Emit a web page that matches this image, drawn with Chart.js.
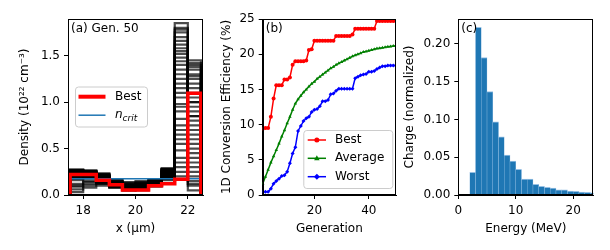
<!DOCTYPE html>
<html>
<head>
<meta charset="utf-8">
<script src="https://cdn.jsdelivr.net/npm/chart.js@4/dist/chart.umd.min.js"></script>
<style>
  body { margin: 0; background: #fff; width: 610px; height: 250px; position: relative; overflow: hidden; }
  canvas { position: absolute; top: 0; }
</style>
</head>
<body>
<canvas id="densityChart" width="205" height="250" style="left:0px"></canvas>
<canvas id="efficiencyChart" width="195" height="250" style="left:205px"></canvas>
<canvas id="spectrumChart" width="210" height="250" style="left:400px"></canvas>
<script>
// (a) density profile, gen 50  (units 10^22 cm^-3)
var densityEdges = [17.5, 18, 18.5, 19, 19.5, 20, 20.5, 21, 21.5, 22, 22.5]
var bestDensity = [0.22, 0.22, 0.16, 0.11, 0.055, 0.055, 0.10, 0.12, 0.17, 1.095]
var nCrit = 0.174
var gen50Density = [
  [0.26, 0.25, 0.22, 0.12, 0.08, 0.10, 0.12, 0.28, 1.85, 0.30],
  [0.24, 0.26, 0.18, 0.10, 0.06, 0.08, 0.10, 0.24, 0.40, 1.45],
  [0.20, 0.22, 0.23, 0.15, 0.10, 0.12, 0.16, 0.26, 1.70, 0.10],
  [0.27, 0.24, 0.20, 0.08, 0.05, 0.06, 0.11, 0.20, 1.55, 0.60],
  [0.22, 0.20, 0.14, 0.11, 0.13, 0.14, 0.15, 0.18, 1.40, 0.85],
  [0.18, 0.19, 0.16, 0.13, 0.09, 0.11, 0.13, 0.22, 1.20, 1.30],
  [0.25, 0.23, 0.19, 0.09, 0.07, 0.05, 0.09, 0.25, 1.05, 0.95],
  [0.10, 0.15, 0.12, 0.14, 0.12, 0.13, 0.14, 0.27, 0.90, 1.10],
  [0.23, 0.21, 0.17, 0.16, 0.11, 0.09, 0.12, 0.21, 0.75, 1.20],
  [0.26, 0.24, 0.21, 0.12, 0.08, 0.10, 0.17, 0.29, 1.62, 0.20],
  [0.21, 0.22, 0.18, 0.10, 0.06, 0.07, 0.10, 0.17, 0.55, 1.00],
  [0.27, 0.26, 0.20, 0.12, 0.09, 0.12, 0.12, 0.23, 1.30, 0.45],
  [0.09, 0.12, 0.15, 0.17, 0.14, 0.15, 0.16, 0.19, 0.30, 0.70],
  [0.22, 0.23, 0.20, 0.11, 0.05, 0.08, 0.13, 0.26, 1.75, 0.05],
  [0.19, 0.18, 0.13, 0.08, 0.10, 0.10, 0.14, 0.24, 0.65, 1.40],
  [0.25, 0.26, 0.22, 0.14, 0.08, 0.11, 0.11, 0.22, 1.48, 0.50],
  [0.03, 0.08, 0.10, 0.12, 0.10, 0.12, 0.14, 0.16, 0.20, 0.85],
  [0.24, 0.22, 0.19, 0.09, 0.07, 0.09, 0.12, 0.28, 1.15, 0.75],
  [0.26, 0.25, 0.21, 0.13, 0.09, 0.10, 0.15, 0.25, 0.98, 1.35],
  [0.20, 0.21, 0.17, 0.10, 0.08, 0.10, 0.11, 0.20, 1.58, 0.15],
  [0.25, 0.24, 0.20, 0.11, 0.07, 0.09, 0.13, 0.27, 1.80, 1.25],
  [0.23, 0.22, 0.19, 0.13, 0.10, 0.11, 0.12, 0.22, 1.66, 0.40],
  [0.16, 0.18, 0.15, 0.12, 0.09, 0.08, 0.10, 0.19, 1.52, 1.05],
  [0.27, 0.25, 0.21, 0.10, 0.06, 0.07, 0.11, 0.25, 1.35, 0.65],
  [0.21, 0.20, 0.17, 0.14, 0.11, 0.13, 0.15, 0.23, 1.25, 1.38],
  [0.12, 0.14, 0.13, 0.10, 0.08, 0.09, 0.12, 0.21, 1.10, 0.90],
  [0.24, 0.26, 0.22, 0.12, 0.07, 0.08, 0.10, 0.26, 0.95, 1.15],
  [0.26, 0.23, 0.18, 0.09, 0.06, 0.10, 0.13, 0.24, 0.82, 0.35],
  [0.22, 0.21, 0.16, 0.11, 0.09, 0.11, 0.14, 0.20, 0.70, 0.55],
  [0.06, 0.10, 0.12, 0.15, 0.12, 0.12, 0.13, 0.18, 0.60, 1.42],
  [0.25, 0.24, 0.20, 0.13, 0.08, 0.09, 0.11, 0.27, 0.48, 0.80],
  [0.20, 0.19, 0.14, 0.10, 0.10, 0.12, 0.16, 0.22, 0.35, 1.00],
  [0.27, 0.26, 0.23, 0.12, 0.07, 0.08, 0.12, 0.28, 0.25, 0.25],
  [0.23, 0.24, 0.19, 0.11, 0.09, 0.10, 0.12, 0.23, 1.44, 1.28],
  [0.18, 0.20, 0.18, 0.12, 0.08, 0.09, 0.14, 0.25, 1.78, 0.12],
]
var densityTicksX = [18, 20, 22]
var densityTicksY = [0, 0.5, 1, 1.5]

// (b) conversion efficiency per generation (%)
var generations = [1, 2, 3, 4, 5, 6, 7, 8, 9, 10, 11, 12, 13, 14, 15, 16, 17, 18, 19, 20,
  21, 22, 23, 24, 25, 26, 27, 28, 29, 30, 31, 32, 33, 34, 35, 36, 37, 38, 39, 40,
  41, 42, 43, 44, 45, 46, 47, 48, 49, 50]
var bestEff = [9.4, 9.5, 9.5, 11.1, 13.7, 15.6, 15.6, 15.6, 16.4, 16.4,
  16.7, 18.5, 19.0, 19.0, 19.0, 19.0, 19.1, 20.6, 20.7, 21.9,
  21.9, 21.9, 21.9, 21.9, 21.9, 21.9, 21.9, 22.6, 22.6, 22.6,
  22.6, 22.6, 22.6, 22.8, 23.6, 23.6, 23.6, 23.6, 23.6, 23.6,
  23.6, 23.6, 24.7, 24.7, 24.7, 24.7, 24.7, 24.7, 24.7, 24.7]
var avgEff = [1.6, 2.6, 3.6, 4.6, 5.5, 6.4, 7.3, 8.3, 9.2, 10.2,
  11.1, 12.1, 13.0, 13.6, 14.1, 14.6, 15.0, 15.4, 15.8, 16.1,
  16.5, 16.8, 17.1, 17.4, 17.7, 18.0, 18.2, 18.5, 18.7, 18.9,
  19.1, 19.3, 19.5, 19.7, 19.85, 20.0, 20.15, 20.3, 20.4, 20.5,
  20.6, 20.7, 20.8, 20.85, 20.9, 21.0, 21.05, 21.1, 21.15, 21.2]
var worstEff = [0.45, 0.45, 0.45, 0.9, 1.6, 2.0, 2.3, 2.7, 2.8, 3.3,
  4.5, 5.9, 6.8, 9.1, 9.8, 10.5, 10.9, 11.1, 11.8, 12.1,
  12.2, 12.6, 13.3, 13.3, 13.5, 14.3, 14.4, 14.8, 15.1, 15.1,
  15.1, 15.1, 15.1, 15.1, 16.6, 16.8, 17.0, 17.1, 17.2, 17.5,
  17.5, 17.6, 17.9, 18.1, 18.3, 18.3, 18.4, 18.4, 18.4, 18.4]
var genTicks = [20, 40]
var effTicks = [0, 5, 10, 15, 20, 25]

// (c) electron spectrum, 1 MeV bins (left edges)
var energyBins = [2, 3, 4, 5, 6, 7, 8, 9, 10, 11, 12, 13, 14, 15, 16, 17, 18, 19, 20, 21, 22, 23]
var charge = [0.030, 0.222, 0.182, 0.137, 0.097, 0.077, 0.053, 0.045, 0.034, 0.021, 0.021,
  0.014, 0.0115, 0.010, 0.009, 0.007, 0.007, 0.0053, 0.005, 0.004, 0.0035, 0.003]
var energyTicks = [0, 10, 20]
var chargeTicks = [0, 0.05, 0.1, 0.15, 0.2]

Chart.defaults.font.family = 'DejaVu Sans'
Chart.defaults.font.size = 12
Chart.defaults.color = '#000'
Chart.defaults.animation = false

function stepPoints(edges, vals) {
  var pts = [{ x: edges[0], y: 0 }]
  vals.forEach(function (v, i) {
    pts.push({ x: edges[i], y: v })
    pts.push({ x: edges[i + 1], y: v })
  })
  pts.push({ x: edges[edges.length - 1], y: 0 })
  return pts
}

// matplotlib-like axis
function makeAxis(min, max, ticks, digits, size, title, titlePad, horizontal) {
  return {
    type: 'linear',
    min: min,
    max: max,
    offset: false,
    afterBuildTicks: function (s) {
      s.ticks = ticks.map(function (v) { return { value: v } })
    },
    afterFit: function (s) {
      if (horizontal) s.height = size
      else s.width = size
    },
    ticks: {
      padding: horizontal ? 5 : 4,
      callback: function (v) { return Number(v).toFixed(digits) },
    },
    grid: { offset: false, drawOnChartArea: false, drawTicks: true, tickLength: 4, color: '#000', tickWidth: 1 },
    border: { color: '#000', width: 1 },
    title: {
      display: true,
      text: title,
      padding: horizontal ? { top: 0, bottom: titlePad } : { top: titlePad, bottom: 0 },
    },
  }
}

var framePlugin = {
  id: 'frame',
  afterDatasetsDraw: function (chart) {
    var a = chart.chartArea
    var ctx = chart.ctx
    ctx.save()
    ctx.strokeStyle = '#000'
    ctx.lineWidth = 1
    var l = Math.round(a.left) + 0.5
    var t = Math.round(a.top) + 0.5
    var r = Math.round(a.right) - 0.5
    var b = Math.round(a.bottom) - 0.5
    ctx.strokeRect(l, t, r - l, b - t)
    ctx.restore()
  },
}

function panelLabel(text) {
  return {
    id: 'panelLabel',
    afterDraw: function (chart) {
      var ctx = chart.ctx
      ctx.save()
      ctx.font = '12px DejaVu Sans'
      ctx.fillStyle = '#000'
      ctx.textBaseline = 'middle'
      ctx.fillText(text, chart.chartArea.left + 3, chart.chartArea.top + 10)
      ctx.restore()
    },
  }
}

function drawMarker(ctx, style, x, y, r) {
  ctx.beginPath()
  if (style === 'triangle') {
    ctx.moveTo(x, y - r * 1.2)
    ctx.lineTo(x + r * 1.1, y + r * 0.8)
    ctx.lineTo(x - r * 1.1, y + r * 0.8)
  } else if (style === 'rectRot') {
    ctx.moveTo(x, y - r * 1.2)
    ctx.lineTo(x + r * 1.2, y)
    ctx.lineTo(x, y + r * 1.2)
    ctx.lineTo(x - r * 1.2, y)
  } else {
    ctx.arc(x, y, r, 0, Math.PI * 2)
  }
  ctx.closePath()
  ctx.fill()
}

// legend drawn inside the axes, like matplotlib
function boxLegend(box) {
  return {
    id: 'boxLegend',
    afterDraw: function (chart) {
      var ctx = chart.ctx
      ctx.save()
      ctx.fillStyle = 'rgba(255,255,255,0.8)'
      ctx.strokeStyle = '#cccccc'
      ctx.lineWidth = 1
      ctx.beginPath()
      ctx.roundRect(box.x + 0.5, box.y + 0.5, box.w, box.h, 3)
      ctx.fill()
      ctx.stroke()
      box.items.forEach(function (item, i) {
        var y = box.rows[i]
        ctx.strokeStyle = item.color
        ctx.lineWidth = item.width
        ctx.beginPath()
        ctx.moveTo(box.lineX0, y)
        ctx.lineTo(box.lineX1, y)
        ctx.stroke()
        if (item.marker) {
          ctx.fillStyle = item.color
          drawMarker(ctx, item.marker, (box.lineX0 + box.lineX1) / 2, y, 2.5)
        }
        ctx.fillStyle = '#000'
        ctx.textBaseline = 'middle'
        var x = box.textX
        item.parts.forEach(function (p) {
          ctx.font = p.font
          ctx.fillText(p.text, x, y + (p.dy || 0))
          x += ctx.measureText(p.text).width
        })
      })
      ctx.restore()
    },
  }
}

// ---------- (a) ----------
var densityMinX = 17.42
var densityMaxX = 22.58
var densitySets = [
  {
    data: stepPoints(densityEdges, bestDensity),
    borderColor: '#ff0000',
    borderWidth: 3.5,
  },
  {
    data: [{ x: densityMinX, y: nCrit }, { x: densityMaxX, y: nCrit }],
    borderColor: '#1f77b4',
    borderWidth: 1.5,
  },
]
gen50Density.forEach(function (vals) {
  densitySets.push({
    data: stepPoints(densityEdges, vals),
    borderColor: 'rgba(0,0,0,0.7)',
    borderWidth: 2.2,
  })
})

new Chart(document.getElementById('densityChart'), {
  type: 'line',
  data: { datasets: densitySets },
  options: {
    responsive: false,
    layout: { padding: { top: 19, right: 2, bottom: 0, left: 0 } },
    elements: { point: { radius: 0 }, line: { tension: 0, fill: false } },
    plugins: { legend: { display: false }, tooltip: { enabled: false } },
    scales: {
      x: makeAxis(densityMinX, densityMaxX, densityTicksX, 0, 55, 'x (µm)', 14, true),
      y: makeAxis(0, 1.895, densityTicksY, 1, 68, 'Density (10²² cm⁻³)', 18, false),
    },
  },
  plugins: [
    framePlugin,
    panelLabel('(a) Gen. 50'),
    boxLegend({
      x: 75, y: 86.5, w: 72, h: 40,
      lineX0: 78.5, lineX1: 105.5, textX: 115,
      rows: [96.7, 115.2],
      items: [
        { color: '#ff0000', width: 4, parts: [{ text: 'Best', font: '12px DejaVu Sans' }] },
        {
          color: '#1f77b4', width: 1.5,
          parts: [
            { text: 'n', font: 'italic 12px DejaVu Sans' },
            { text: 'crit', font: 'italic 9px DejaVu Sans', dy: 3 },
          ],
        },
      ],
    }),
  ],
})

// ---------- (b) ----------
function effSet(vals, color, style) {
  return {
    data: vals.map(function (v, i) { return { x: generations[i], y: v } }),
    borderColor: color,
    backgroundColor: color,
    borderWidth: 1.5,
    pointStyle: style,
    pointRadius: 2,
    pointBorderWidth: 0,
  }
}

new Chart(document.getElementById('efficiencyChart'), {
  type: 'line',
  data: {
    datasets: [
      effSet(bestEff, '#ff0000', 'circle'),
      effSet(avgEff, '#008000', 'triangle'),
      effSet(worstEff, '#0000ff', 'rectRot'),
    ],
  },
  options: {
    responsive: false,
    layout: { padding: { top: 19, right: 1.7, bottom: 0, left: 0 } },
    elements: { line: { tension: 0 } },
    plugins: { legend: { display: false }, tooltip: { enabled: false } },
    scales: {
      x: makeAxis(1, 50, genTicks, 0, 55, 'Generation', 14, true),
      y: makeAxis(0, 25, effTicks, 0, 57.7, '1D Conversion Efficiency (%)', 14.5, false),
    },
  },
  plugins: [
    framePlugin,
    panelLabel('(b)'),
    boxLegend({
      x: 98.3, y: 130, w: 89, h: 58,
      lineX0: 102.7, lineX1: 121, textX: 130,
      rows: [140, 158.3, 176.7],
      items: [
        { color: '#ff0000', width: 1.5, marker: 'circle', parts: [{ text: 'Best', font: '12px DejaVu Sans' }] },
        { color: '#008000', width: 1.5, marker: 'triangle', parts: [{ text: 'Average', font: '12px DejaVu Sans' }] },
        { color: '#0000ff', width: 1.5, marker: 'rectRot', parts: [{ text: 'Worst', font: '12px DejaVu Sans' }] },
      ],
    }),
  ],
})

// ---------- (c) ----------
var binWidth = 1
new Chart(document.getElementById('spectrumChart'), {
  type: 'bar',
  data: {
    datasets: [
      {
        data: energyBins.map(function (e, i) { return { x: e + binWidth / 2, y: charge[i] } }),
        backgroundColor: '#1f77b4',
        borderColor: 'rgba(140,185,225,0.9)',
        borderWidth: { top: 1, left: 0.5, right: 0.5, bottom: 0 },
        barPercentage: 1,
        categoryPercentage: 1,
      },
    ],
  },
  options: {
    responsive: false,
    layout: { padding: { top: 19, right: 16.7, bottom: 0, left: 0 } },
    plugins: { legend: { display: false }, tooltip: { enabled: false } },
    scales: {
      x: makeAxis(0, 23.5, energyTicks, 0, 55, 'Energy (MeV)', 14, true),
      y: makeAxis(0, 0.233, chargeTicks, 2, 58.3, 'Charge (normalized)', 2.5, false),
    },
  },
  plugins: [framePlugin, panelLabel('(c)')],
})
</script>
</body>
</html>
